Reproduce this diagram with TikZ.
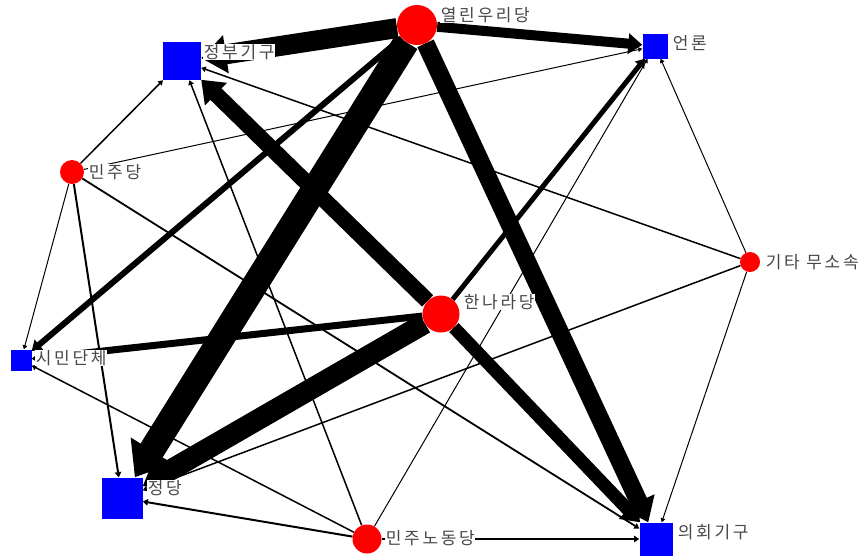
\documentclass[tikz,border=0pt]{standalone}
\usepackage{fontspec}
\newfontfamily\kr[LetterSpace=16]{Noto Sans CJK KR}
\usetikzlibrary{arrows.meta}
\pgfdeclarelayer{edgelayer}
\pgfdeclarelayer{paper}
\pgfsetlayers{paper,edgelayer,main}
\tikzset{
  party/.style={circle, fill=red, inner sep=0pt, minimum size=#1},
  org/.style={rectangle, fill=blue, inner sep=0pt, minimum size=#1},
  lab/.style={anchor=west, fill=white, inner sep=0.6pt, text=black!72,
              font=\kr\fontsize{17}{17}\selectfont},
  tie/.style={draw=black, line width=#1,
              -{Triangle[length=3pt 1.1, width=3pt 1.7]}},
}
\begin{document}
\begin{tikzpicture}[x=1pt,y=-1pt]
\begin{pgfonlayer}{paper}
\fill[white] (0,0) rectangle (867,555);
\end{pgfonlayer}
\useasboundingbox (0,0) rectangle (867,555);
% nodes
\node[party=40pt] (yw) at (417,25) {};
\node[org=25pt]   (un) at (655,46) {};
\node[org=38pt]   (gov) at (182,61) {};
\node[party=24pt] (mj) at (72,172) {};
\node[party=20pt] (gt) at (750,262) {};
\node[party=37pt] (hn) at (441,314) {};
\node[org=21pt]   (sm) at (21,360) {};
\node[org=41pt]   (jd) at (122,498) {};
\node[party=29pt] (ml) at (367,539) {};
\node[org=33pt]   (ui) at (656,539) {};
% edges
\begin{pgfonlayer}{edgelayer}
\draw[tie=26pt] (yw) -- (jd);
\draw[tie=20pt] (yw) -- (gov);
\draw[tie=18pt] (yw) -- (ui);
\draw[tie=10pt] (yw) -- (un);
\draw[tie=6pt]  (yw) -- (sm);
\draw[tie=21pt] (hn) -- (jd);
\draw[tie=16pt] (hn) -- (gov);
\draw[tie=13pt] (hn) -- (ui);
\draw[tie=7pt]  (hn) -- (sm);
\draw[tie=5pt]  (hn) -- (un);
\draw[tie=1.5pt] (mj) -- (gov);
\draw[tie=1pt]   (mj) -- (un);
\draw[tie=1pt]   (mj) -- (sm);
\draw[tie=2pt]   (mj) -- (jd);
\draw[tie=1.8pt] (mj) -- (ui);
\draw[tie=1.5pt] (ml) -- (gov);
\draw[tie=1pt]   (ml) -- (un);
\draw[tie=1.5pt] (ml) -- (sm);
\draw[tie=2pt]   (ml) -- (jd);
\draw[tie=2pt]   (ml) -- (ui);
\draw[tie=1pt]   (gt) -- (un);
\draw[tie=1pt]   (gt) -- (ui);
\draw[tie=1.5pt] (gt) -- (jd);
\draw[tie=1.5pt] (gt) -- (gov);
\end{pgfonlayer}
% labels
\node[lab] (lyw) at (440,15) {열린우리당};
\node[lab] (lun) at (672,43) {언론};
\node[lab] (lgov) at (203,52) {정부기구};
\node[lab] (lmj) at (88,172) {민주당};
\node[lab] (lgt) at (765,262) {기타 무소속};
\node[lab] (lhn) at (463,302) {한나라당};
\node[lab] (lsm) at (35,358) {시민단체};
\node[lab] (ljd) at (147,488) {정당};
\node[lab] (lml) at (385,538) {민주노동당};
\node[lab] (lui) at (677,532) {의회기구};
\end{tikzpicture}
\end{document}
